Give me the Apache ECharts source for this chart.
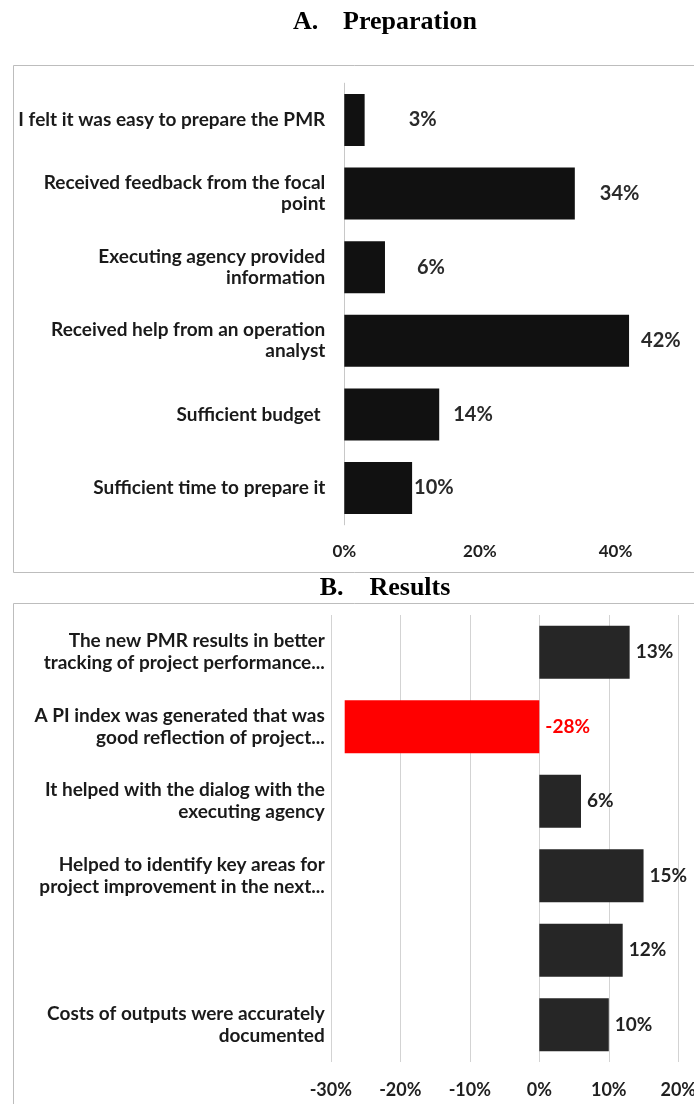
<!DOCTYPE html>
<html>
<head>
<meta charset="utf-8">
<script src="https://cdn.jsdelivr.net/npm/echarts@6/dist/echarts.min.js"></script>
<style>
  html, body { margin: 0; padding: 0; background: #fff; }
  #chart { width: 694px; height: 1104px; }
</style>
</head>
<body>
<div id="chart"></div>
<script>
// Panel A: preparation of the PMR (share of respondents, %)
const prepCategories = [
  'I felt it was easy to prepare the PMR',
  'Received feedback from the focal\npoint',
  'Executing agency provided\ninformation',
  'Received help from an operation\nanalyst',
  'Sufficient budget ',
  'Sufficient time to prepare it'
];
const prepValues = [3, 34, 6, 42, 14, 10];

// Panel B: results of the PMR (net share, %)
const resultCategories = [
  'The new PMR results in better\ntracking of project performance...',
  'A PI index was generated that was\ngood reflection of project...',
  'It helped with the dialog with the\nexecuting agency',
  'Helped to identify key areas for\nproject improvement in the next...',
  '',
  'Costs of outputs were accurately\ndocumented'
];
const resultValues = [13, -28, 6, 15, 12, 10];

// Axis ranges and ticks
const prepAxis = { min: 0, max: 50, step: 20 };
const resultAxis = { min: -30, max: 20, step: 10 };

// Gap between each bar end and its value label in panel A (px)
const prepLabelGap = [44, 25, 32, 12, 14, 2];

const FONT = 'Lato, "Open Sans", sans-serif';
const pct = v => v + '%';

const chart = echarts.init(document.getElementById('chart'), null, { renderer: 'canvas' });

chart.setOption({
  backgroundColor: '#ffffff',
  animation: false,
  graphic: [
    { type: 'rect', silent: true, shape: { x: 13.5, y: 65.5, width: 700, height: 507 },
      style: { fill: 'none', stroke: '#bdbdbd', lineWidth: 1 } },
    { type: 'rect', silent: true, shape: { x: 13.5, y: 603.5, width: 700, height: 600 },
      style: { fill: 'none', stroke: '#bdbdbd', lineWidth: 1 } },
    { type: 'text', silent: true, x: 385, y: 22,
      style: { text: 'A.   \u2009Preparation', font: 'bold 26px "Liberation Serif", "Times New Roman", serif',
               fill: '#000', align: 'center', verticalAlign: 'middle' } },
    { type: 'text', silent: true, x: 385, y: 588.5,
      style: { text: 'B.    Results', font: 'bold 26px "Liberation Serif", "Times New Roman", serif',
               fill: '#000', align: 'center', verticalAlign: 'middle' } }
  ],
  grid: [
    { left: 344.3, right: 694 - (344.3 + 6.78 * prepAxis.max), top: 83.2, height: 441.6,
      containLabel: false, outerBoundsMode: 'none' },
    { left: 330.8, right: 15.7, top: 615, height: 447,
      containLabel: false, outerBoundsMode: 'none' }
  ],
  xAxis: [
    {
      type: 'value', gridIndex: 0,
      min: prepAxis.min, max: prepAxis.max, interval: prepAxis.step,
      axisLine: { show: false }, axisTick: { show: false }, splitLine: { show: false },
      axisLabel: { showMaxLabel: false, formatter: pct, margin: 18,
                   fontFamily: FONT, fontWeight: 'bold', fontSize: 17, color: '#1f1f1f' }
    },
    {
      type: 'value', gridIndex: 1,
      min: resultAxis.min, max: resultAxis.max, interval: resultAxis.step,
      axisLine: { show: false }, axisTick: { show: false },
      splitLine: { show: true, lineStyle: { color: '#d3d3d3', width: 1 } },
      axisLabel: { formatter: pct, margin: 19,
                   fontFamily: FONT, fontWeight: 'bold', fontSize: 18, color: '#1f1f1f' }
    }
  ],
  yAxis: [
    {
      type: 'category', gridIndex: 0, data: prepCategories, inverse: true,
      axisLine: { show: true, lineStyle: { color: '#c8c8c8', width: 1 } },
      axisTick: { show: false },
      axisLabel: { margin: 19, align: 'right', lineHeight: 21,
                   fontFamily: FONT, fontWeight: 'bold', fontSize: 19, color: '#1a1a1a' }
    },
    {
      type: 'category', gridIndex: 1, data: resultCategories, inverse: true,
      axisLine: { show: false }, axisTick: { show: false },
      axisLabel: { margin: 6, align: 'right', lineHeight: 22,
                   fontFamily: FONT, fontWeight: 'bold', fontSize: 19, color: '#1a1a1a' }
    }
  ],
  series: [
    {
      type: 'bar', xAxisIndex: 0, yAxisIndex: 0,
      barCategoryGap: '29.3%',
      itemStyle: { color: '#111111' },
      label: { show: true, position: 'right', formatter: p => pct(p.value),
               fontFamily: FONT, fontWeight: 'bold', fontSize: 20, color: '#2a2a2a' },
      data: prepValues.map((v, i) => ({ value: v, label: { distance: prepLabelGap[i] } }))
    },
    {
      type: 'bar', xAxisIndex: 1, yAxisIndex: 1,
      barCategoryGap: '29%',
      itemStyle: { color: '#262626' },
      label: { show: true, position: 'right', distance: 6, formatter: p => pct(p.value),
               fontFamily: FONT, fontWeight: 'bold', fontSize: 19, color: '#222222' },
      data: resultValues.map(v => v < 0
        ? { value: v, itemStyle: { color: '#ff0000' }, label: { color: '#ff0000' } }
        : v)
    }
  ]
});
</script>
</body>
</html>
